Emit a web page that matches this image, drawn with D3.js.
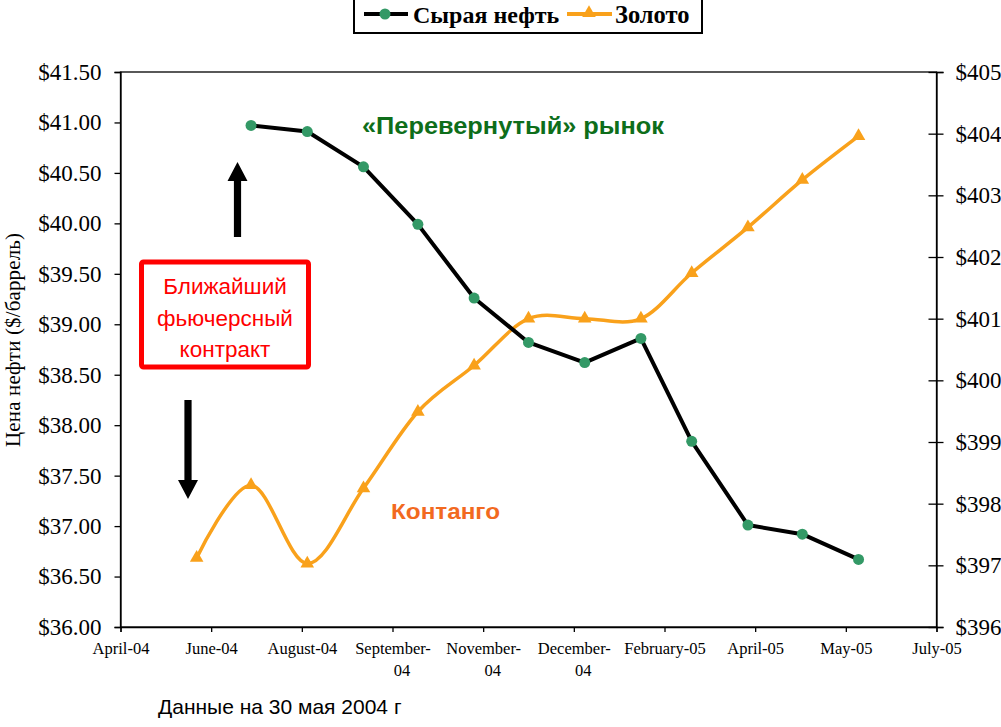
<!DOCTYPE html>
<html><head><meta charset="utf-8">
<script src="https://cdn.jsdelivr.net/npm/d3@7"></script>
<style>html,body{margin:0;padding:0;background:#fff}svg{display:block}</style>
</head><body>
<script>
// ---- data ----
const goldDates = ["2004-06-05","2004-07-05","2004-08-05","2004-09-05","2004-10-05","2004-11-05","2004-12-05","2005-01-05","2005-02-05","2005-03-05","2005-04-05","2005-05-05","2005-06-05"];
const goldValues = [397.12, 398.30, 397.03, 398.25, 399.49, 400.24, 401.00, 401.00, 401.00, 401.74, 402.48, 403.25, 403.96];
const oilDates = ["2004-07-05","2004-08-05","2004-09-05","2004-10-05","2004-11-05","2004-12-05","2005-01-05","2005-02-05","2005-03-05","2005-04-05","2005-05-05","2005-06-05"];
const oilValues = [40.97, 40.91, 40.56, 39.99, 39.26, 38.82, 38.62, 38.86, 37.84, 37.01, 36.92, 36.67];
const xTickDates = ["2004-04-24","2004-06-13","2004-08-02","2004-09-21","2004-11-10","2004-12-30","2005-02-18","2005-04-09","2005-05-29","2005-07-18"];
const xTickLabels = [["April-04"],["June-04"],["August-04"],["September-","04"],["November-","04"],["December-","04"],["February-05"],["April-05"],["May-05"],["July-05"]];
const leftTicks = [36, 36.5, 37, 37.5, 38, 38.5, 39, 39.5, 40, 40.5, 41, 41.5];
const rightTicks = [396, 397, 398, 399, 400, 401, 402, 403, 404, 405];
const seriesNames = ["Сырая нефть", "Золото"];

const W = 1001, H = 727;
const L = 120.5, R = 936.5, T = 72, B = 627;
const serif = "'Liberation Serif','Times New Roman',Times,serif";
const sans = "'Liberation Sans',Arial,sans-serif";
const narrow = "'Liberation Sans Narrow','Arial Narrow','Liberation Sans',Arial,sans-serif";
const oilColor = "#000", oilMarker = "#339966";
const goldColor = "#F9A11B";

const parse = d3.utcParse("%Y-%m-%d");
const svg = d3.select("body").append("svg").attr("width", W).attr("height", H);

const x = d3.scaleUtc().domain([parse(xTickDates[0]), parse(xTickDates[xTickDates.length-1])]).range([L, R]);
const yL = d3.scaleLinear().domain([36, 41.5]).range([B, T]);
const yR = d3.scaleLinear().domain([396, 405]).range([B, T]);

// plot border
svg.append("rect").attr("x", L).attr("y", T).attr("width", R - L).attr("height", B - T)
  .attr("fill", "none").attr("stroke", "#000").attr("stroke-width", 1.3);

// left axis
const gL = svg.append("g").attr("transform", `translate(${L},0)`)
  .call(d3.axisLeft(yL).tickValues(leftTicks).tickSize(6).tickPadding(13).tickFormat(d => "$" + d3.format(".2f")(d)));
gL.attr("font-family", null).attr("font-size", null);
gL.select(".domain").attr("stroke-width", 1.3);
gL.selectAll(".tick line").attr("stroke-width", 1.3);
gL.selectAll("text").style("font-family", serif).style("font-size", "23px").attr("fill", "#000");

// right axis (cross ticks)
const gR = svg.append("g").attr("transform", `translate(${R},0)`)
  .call(d3.axisRight(yR).tickValues(rightTicks).tickSize(7).tickPadding(12).tickFormat(d => "$" + d));
gR.attr("font-family", null).attr("font-size", null);
gR.select(".domain").attr("stroke-width", 1.3);
gR.selectAll(".tick line").attr("x1", -8).attr("stroke-width", 1.3);
gR.selectAll("text").style("font-family", serif).style("font-size", "23px").attr("fill", "#000");

// bottom axis
const gB = svg.append("g").attr("transform", `translate(0,${B})`)
  .call(d3.axisBottom(x).tickValues(xTickDates.map(parse)).tickSize(5).tickFormat(""));
gB.attr("font-family", null).attr("font-size", null);
gB.select(".domain").attr("stroke-width", 1.3);
gB.selectAll(".tick line").attr("stroke-width", 1.3);
gB.selectAll(".tick").each(function(d, i) {
  const t = d3.select(this).append("text").attr("fill", "#000").style("font-family", serif)
    .style("font-size", "16.5px").attr("text-anchor", "middle").attr("y", 27);
  xTickLabels[i].forEach((s, j) => {
    t.append("tspan").attr("x", j ? 9 : 0).attr("dy", j ? 22 : 0).text(s);
  });
});

// axis title
svg.append("text").attr("transform", "translate(20,340) rotate(-90)")
  .attr("text-anchor", "middle").style("font-family", serif).style("font-size", "21px")
  .attr("textLength", 214).attr("lengthAdjust", "spacing")
  .text("Цена нефти ($/баррель)");

// gold line
const gold = goldDates.map((d, i) => ({ d: parse(d), v: goldValues[i] }));
const oil = oilDates.map((d, i) => ({ d: parse(d), v: oilValues[i] }));

svg.append("path").datum(gold)
  .attr("d", d3.line().x(p => x(p.d)).y(p => yR(p.v)).curve(d3.curveCardinal.tension(0)))
  .attr("fill", "none").attr("stroke", goldColor).attr("stroke-width", 3.5).attr("stroke-linejoin", "round");
const tri = d3.symbol().type(d3.symbolTriangle).size(80);
svg.append("g").selectAll("path").data(gold).join("path")
  .attr("transform", p => `translate(${x(p.d)},${yR(p.v)})`)
  .attr("d", tri).attr("fill", goldColor);

// oil line
svg.append("path").datum(oil)
  .attr("d", d3.line().x(p => x(p.d)).y(p => yL(p.v)))
  .attr("fill", "none").attr("stroke", oilColor).attr("stroke-width", 4).attr("stroke-linejoin", "round");
svg.append("g").selectAll("circle").data(oil).join("circle")
  .attr("cx", p => x(p.d)).attr("cy", p => yL(p.v)).attr("r", 5.5).attr("fill", oilMarker);

// annotations
svg.append("text").attr("x", 362).attr("y", 134).style("font-family", narrow).style("font-weight", "bold")
  .style("font-size", "23px").attr("fill", "#0E6E1A").attr("textLength", 302).attr("lengthAdjust", "spacingAndGlyphs")
  .text("«Перевернутый» рынок");
svg.append("text").attr("x", 391).attr("y", 519).style("font-family", narrow).style("font-weight", "bold")
  .style("font-size", "22px").attr("fill", "#F26A1F").attr("textLength", 109).attr("lengthAdjust", "spacingAndGlyphs")
  .text("Контанго");

// red box
svg.append("rect").attr("x", 141.5).attr("y", 262).attr("width", 167).attr("height", 105).attr("rx", 2)
  .attr("fill", "#fff").attr("stroke", "#ff0000").attr("stroke-width", 5);
const boxText = svg.append("text").style("font-family", sans).style("font-size", "22.5px").attr("fill", "#ff0000")
  .attr("text-anchor", "middle");
["Ближайший", "фьючерсный", "контракт"].forEach((s, i) => {
  boxText.append("tspan").attr("x", 225).attr("y", 294 + i * 31.5).text(s);
});

// arrows
function arrow(xc, yTail, yTip) {
  const dir = yTip < yTail ? -1 : 1;
  const headLen = 19, headHalf = 10, shaftHalf = 3.6;
  const yBase = yTip - dir * headLen;
  svg.append("path").attr("fill", "#000").attr("d",
    `M${xc - shaftHalf},${yTail} L${xc - shaftHalf},${yBase} L${xc - headHalf},${yBase} L${xc},${yTip} ` +
    `L${xc + headHalf},${yBase} L${xc + shaftHalf},${yBase} L${xc + shaftHalf},${yTail} Z`);
}
arrow(237.5, 237, 162);
arrow(188, 400, 499);

// legend
const lg = svg.append("g");
lg.append("rect").attr("x", 354).attr("y", -3).attr("width", 348).attr("height", 36)
  .attr("fill", "#fff").attr("stroke", "#000").attr("stroke-width", 2);
lg.append("line").attr("x1", 364).attr("x2", 408).attr("y1", 14).attr("y2", 14).attr("stroke", oilColor).attr("stroke-width", 4);
lg.append("circle").attr("cx", 385).attr("cy", 14).attr("r", 5.5).attr("fill", oilMarker);
lg.append("text").attr("x", 413).attr("y", 23).style("font-family", serif).style("font-weight", "bold")
  .style("font-size", "24px").text(seriesNames[0]);
lg.append("line").attr("x1", 567).attr("x2", 612).attr("y1", 14).attr("y2", 14).attr("stroke", goldColor).attr("stroke-width", 4);
lg.append("path").attr("transform", "translate(589,13)").attr("d", tri).attr("fill", goldColor);
lg.append("text").attr("x", 615).attr("y", 23).style("font-family", serif).style("font-weight", "bold")
  .style("font-size", "24.5px").text(seriesNames[1]);

// footnote
svg.append("text").attr("x", 158).attr("y", 714).style("font-family", sans).style("font-size", "21px")
  .text("Данные на 30 мая 2004 г");
</script>
</body></html>
